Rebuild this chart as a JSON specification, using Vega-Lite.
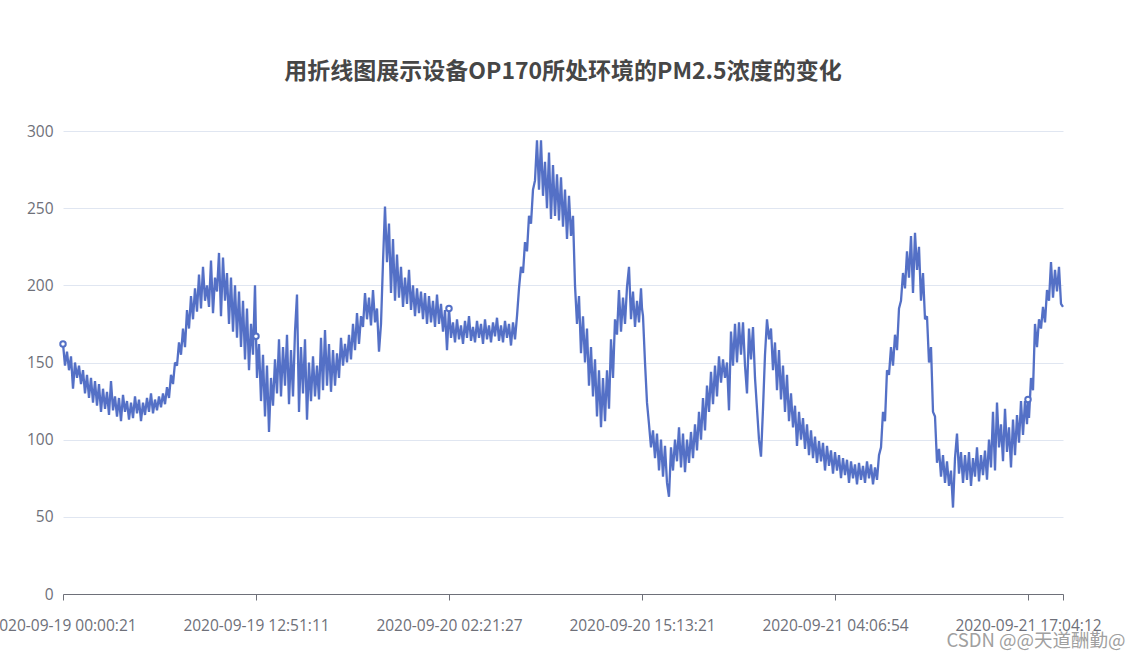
{
  "$schema": "https://vega.github.io/schema/vega-lite/v6.json",
  "width": 1000,
  "height": 463,
  "autosize": {"type": "none"},
  "padding": {"left": 63, "top": 131, "right": 76, "bottom": 66},
  "background": "white",
  "config": {"view": {"stroke": null}},
  "title": {
    "text": "用折线图展示设备OP170所处环境的PM2.5浓度的变化",
    "font": "Noto Sans CJK SC",
    "fontSize": 23,
    "fontWeight": "bold",
    "color": "#464646",
    "anchor": "middle",
    "frame": "group",
    "baseline": "bottom",
    "offset": 17
  },
  "data": {
    "values": [
      {"i":0,"v":162},{"i":2,"v":148},{"i":4,"v":157},{"i":6,"v":145},{"i":8,"v":154},{"i":10,"v":133},{"i":12,"v":150},{"i":14,"v":140},{"i":16,"v":148},{"i":18,"v":136},
      {"i":20,"v":145},{"i":22,"v":130},{"i":24,"v":142},{"i":26,"v":127},{"i":28,"v":140},{"i":30,"v":124},{"i":32,"v":138},{"i":34,"v":122},{"i":36,"v":136},{"i":38,"v":118},
      {"i":40,"v":133},{"i":42,"v":120},{"i":44,"v":131},{"i":46,"v":116},{"i":48,"v":138},{"i":50,"v":119},{"i":52,"v":128},{"i":54,"v":115},{"i":56,"v":127},{"i":58,"v":112},
      {"i":60,"v":129},{"i":62,"v":118},{"i":64,"v":125},{"i":66,"v":113},{"i":68,"v":124},{"i":70,"v":114},{"i":72,"v":128},{"i":74,"v":117},{"i":76,"v":126},{"i":78,"v":112},
      {"i":80,"v":124},{"i":82,"v":116},{"i":84,"v":127},{"i":86,"v":118},{"i":88,"v":130},{"i":90,"v":117},{"i":92,"v":126},{"i":94,"v":119},{"i":96,"v":128},{"i":98,"v":121},
      {"i":100,"v":130},{"i":102,"v":123},{"i":104,"v":134},{"i":106,"v":127},{"i":108,"v":142},{"i":110,"v":136},{"i":112,"v":150},{"i":114,"v":148},{"i":116,"v":163},{"i":118,"v":155},
      {"i":120,"v":172},{"i":122,"v":160},{"i":124,"v":184},{"i":126,"v":172},{"i":128,"v":193},{"i":130,"v":178},{"i":132,"v":198},{"i":134,"v":183},{"i":136,"v":207},{"i":138,"v":185},
      {"i":140,"v":212},{"i":142,"v":190},{"i":144,"v":200},{"i":146,"v":186},{"i":148,"v":216},{"i":150,"v":182},{"i":152,"v":205},{"i":154,"v":196},{"i":156,"v":221},{"i":158,"v":180},
      {"i":160,"v":218},{"i":162,"v":190},{"i":164,"v":208},{"i":166,"v":175},{"i":168,"v":205},{"i":170,"v":170},{"i":172,"v":200},{"i":174,"v":166},{"i":176,"v":196},{"i":178,"v":160},
      {"i":180,"v":190},{"i":182,"v":152},{"i":184,"v":185},{"i":186,"v":145},{"i":188,"v":175},{"i":190,"v":155},{"i":192,"v":200},{"i":193,"v":167},{"i":194,"v":140},{"i":196,"v":162},
      {"i":198,"v":125},{"i":200,"v":155},{"i":202,"v":115},{"i":204,"v":148},{"i":206,"v":105},{"i":208,"v":140},{"i":210,"v":122},{"i":212,"v":152},{"i":214,"v":130},{"i":216,"v":165},
      {"i":218,"v":128},{"i":220,"v":160},{"i":222,"v":135},{"i":224,"v":168},{"i":226,"v":123},{"i":228,"v":158},{"i":230,"v":128},{"i":232,"v":170},{"i":234,"v":194},{"i":236,"v":118},
      {"i":238,"v":160},{"i":240,"v":130},{"i":242,"v":165},{"i":244,"v":113},{"i":246,"v":150},{"i":248,"v":125},{"i":250,"v":154},{"i":252,"v":128},{"i":254,"v":148},{"i":256,"v":126},
      {"i":258,"v":166},{"i":260,"v":132},{"i":262,"v":171},{"i":264,"v":135},{"i":266,"v":162},{"i":268,"v":131},{"i":270,"v":158},{"i":272,"v":135},{"i":274,"v":156},{"i":276,"v":140},
      {"i":278,"v":166},{"i":280,"v":148},{"i":282,"v":162},{"i":284,"v":150},{"i":286,"v":168},{"i":288,"v":152},{"i":290,"v":175},{"i":292,"v":158},{"i":294,"v":182},{"i":296,"v":162},
      {"i":298,"v":180},{"i":300,"v":173},{"i":302,"v":195},{"i":304,"v":178},{"i":306,"v":192},{"i":308,"v":174},{"i":310,"v":197},{"i":312,"v":176},{"i":314,"v":185},{"i":316,"v":157},
      {"i":318,"v":175},{"i":320,"v":215},{"i":322,"v":251},{"i":324,"v":215},{"i":326,"v":240},{"i":328,"v":195},{"i":330,"v":230},{"i":332,"v":190},{"i":334,"v":220},{"i":336,"v":192},
      {"i":338,"v":212},{"i":340,"v":186},{"i":342,"v":205},{"i":344,"v":188},{"i":346,"v":210},{"i":348,"v":184},{"i":350,"v":200},{"i":352,"v":180},{"i":354,"v":198},{"i":356,"v":182},
      {"i":358,"v":196},{"i":360,"v":178},{"i":362,"v":195},{"i":364,"v":175},{"i":366,"v":193},{"i":368,"v":176},{"i":370,"v":190},{"i":372,"v":173},{"i":374,"v":194},{"i":376,"v":175},
      {"i":378,"v":188},{"i":380,"v":170},{"i":382,"v":184},{"i":384,"v":158},{"i":386,"v":185},{"i":388,"v":166},{"i":390,"v":176},{"i":392,"v":163},{"i":394,"v":178},{"i":396,"v":165},
      {"i":398,"v":174},{"i":400,"v":162},{"i":402,"v":177},{"i":404,"v":166},{"i":406,"v":180},{"i":408,"v":164},{"i":410,"v":173},{"i":412,"v":163},{"i":414,"v":177},{"i":416,"v":166},
      {"i":418,"v":175},{"i":420,"v":162},{"i":422,"v":178},{"i":424,"v":165},{"i":426,"v":174},{"i":428,"v":163},{"i":430,"v":176},{"i":432,"v":167},{"i":434,"v":179},{"i":436,"v":164},
      {"i":438,"v":174},{"i":440,"v":163},{"i":442,"v":177},{"i":444,"v":166},{"i":446,"v":175},{"i":448,"v":161},{"i":450,"v":176},{"i":452,"v":165},{"i":454,"v":180},{"i":456,"v":198},
      {"i":458,"v":212},{"i":460,"v":208},{"i":462,"v":228},{"i":464,"v":222},{"i":466,"v":245},{"i":468,"v":240},{"i":470,"v":262},{"i":472,"v":268},{"i":474,"v":294},{"i":476,"v":262},
      {"i":478,"v":294},{"i":480,"v":258},{"i":482,"v":280},{"i":484,"v":250},{"i":486,"v":286},{"i":488,"v":243},{"i":490,"v":278},{"i":492,"v":245},{"i":494,"v":272},{"i":496,"v":242},
      {"i":498,"v":270},{"i":500,"v":238},{"i":502,"v":262},{"i":504,"v":230},{"i":506,"v":258},{"i":508,"v":232},{"i":510,"v":245},{"i":512,"v":200},{"i":514,"v":175},{"i":516,"v":193},
      {"i":518,"v":156},{"i":520,"v":180},{"i":522,"v":150},{"i":524,"v":172},{"i":526,"v":135},{"i":528,"v":160},{"i":530,"v":128},{"i":532,"v":152},{"i":534,"v":115},{"i":536,"v":145},
      {"i":538,"v":108},{"i":540,"v":140},{"i":542,"v":112},{"i":544,"v":145},{"i":546,"v":120},{"i":548,"v":165},{"i":550,"v":140},{"i":552,"v":178},{"i":554,"v":168},{"i":556,"v":197},
      {"i":558,"v":170},{"i":560,"v":192},{"i":562,"v":175},{"i":564,"v":199},{"i":566,"v":212},{"i":568,"v":178},{"i":570,"v":196},{"i":572,"v":173},{"i":574,"v":190},{"i":576,"v":176},
      {"i":578,"v":198},{"i":579,"v":185},{"i":580,"v":180},{"i":582,"v":150},{"i":584,"v":124},{"i":586,"v":110},{"i":588,"v":95},{"i":590,"v":106},{"i":592,"v":88},{"i":594,"v":104},
      {"i":596,"v":80},{"i":598,"v":100},{"i":600,"v":76},{"i":602,"v":96},{"i":604,"v":72},{"i":606,"v":63},{"i":608,"v":95},{"i":610,"v":80},{"i":612,"v":100},{"i":614,"v":86},
      {"i":616,"v":108},{"i":618,"v":82},{"i":620,"v":104},{"i":622,"v":79},{"i":624,"v":100},{"i":626,"v":85},{"i":628,"v":105},{"i":630,"v":88},{"i":632,"v":110},{"i":634,"v":93},
      {"i":636,"v":118},{"i":638,"v":100},{"i":640,"v":127},{"i":642,"v":106},{"i":644,"v":135},{"i":646,"v":118},{"i":648,"v":144},{"i":650,"v":123},{"i":652,"v":148},{"i":654,"v":128},
      {"i":656,"v":154},{"i":658,"v":137},{"i":660,"v":152},{"i":662,"v":140},{"i":664,"v":150},{"i":666,"v":119},{"i":668,"v":170},{"i":670,"v":148},{"i":672,"v":175},{"i":674,"v":150},
      {"i":676,"v":176},{"i":678,"v":155},{"i":680,"v":176},{"i":682,"v":148},{"i":684,"v":130},{"i":686,"v":172},{"i":688,"v":152},{"i":690,"v":173},{"i":692,"v":140},{"i":694,"v":120},
      {"i":696,"v":100},{"i":698,"v":89},{"i":700,"v":120},{"i":702,"v":155},{"i":704,"v":178},{"i":706,"v":165},{"i":708,"v":172},{"i":710,"v":145},{"i":712,"v":163},{"i":714,"v":132},
      {"i":716,"v":158},{"i":718,"v":126},{"i":720,"v":148},{"i":722,"v":118},{"i":724,"v":142},{"i":726,"v":112},{"i":728,"v":130},{"i":730,"v":108},{"i":732,"v":122},{"i":734,"v":96},
      {"i":736,"v":118},{"i":738,"v":100},{"i":740,"v":114},{"i":742,"v":94},{"i":744,"v":110},{"i":746,"v":90},{"i":748,"v":106},{"i":750,"v":88},{"i":752,"v":102},{"i":754,"v":85},
      {"i":756,"v":99},{"i":758,"v":86},{"i":760,"v":98},{"i":762,"v":80},{"i":764,"v":96},{"i":766,"v":83},{"i":768,"v":93},{"i":770,"v":78},{"i":772,"v":92},{"i":774,"v":80},
      {"i":776,"v":90},{"i":778,"v":75},{"i":780,"v":88},{"i":782,"v":77},{"i":784,"v":87},{"i":786,"v":72},{"i":788,"v":86},{"i":790,"v":75},{"i":792,"v":84},{"i":794,"v":71},
      {"i":796,"v":85},{"i":798,"v":74},{"i":800,"v":83},{"i":802,"v":72},{"i":804,"v":86},{"i":806,"v":75},{"i":808,"v":84},{"i":810,"v":71},{"i":812,"v":82},{"i":814,"v":74},
      {"i":816,"v":90},{"i":818,"v":95},{"i":820,"v":118},{"i":822,"v":112},{"i":824,"v":145},{"i":826,"v":142},{"i":828,"v":160},{"i":830,"v":148},{"i":832,"v":168},{"i":834,"v":158},
      {"i":836,"v":185},{"i":838,"v":190},{"i":840,"v":208},{"i":842,"v":198},{"i":844,"v":222},{"i":846,"v":205},{"i":848,"v":232},{"i":850,"v":195},{"i":852,"v":234},{"i":854,"v":210},
      {"i":856,"v":225},{"i":858,"v":190},{"i":860,"v":208},{"i":862,"v":178},{"i":864,"v":180},{"i":866,"v":150},{"i":868,"v":160},{"i":870,"v":118},{"i":872,"v":115},{"i":874,"v":85},
      {"i":876,"v":94},{"i":878,"v":76},{"i":880,"v":90},{"i":882,"v":72},{"i":884,"v":86},{"i":886,"v":70},{"i":888,"v":80},{"i":890,"v":56},{"i":892,"v":88},{"i":894,"v":104},
      {"i":896,"v":78},{"i":898,"v":92},{"i":900,"v":72},{"i":902,"v":90},{"i":904,"v":74},{"i":906,"v":92},{"i":908,"v":70},{"i":910,"v":88},{"i":912,"v":76},{"i":914,"v":95},
      {"i":916,"v":73},{"i":918,"v":90},{"i":920,"v":77},{"i":922,"v":93},{"i":924,"v":74},{"i":926,"v":100},{"i":928,"v":82},{"i":930,"v":118},{"i":932,"v":80},{"i":934,"v":124},
      {"i":936,"v":95},{"i":938,"v":110},{"i":940,"v":86},{"i":942,"v":120},{"i":944,"v":92},{"i":946,"v":108},{"i":948,"v":82},{"i":950,"v":113},{"i":952,"v":90},{"i":954,"v":116},
      {"i":956,"v":98},{"i":958,"v":125},{"i":960,"v":103},{"i":962,"v":125},{"i":964,"v":110},{"i":965,"v":126},{"i":966,"v":114},{"i":968,"v":140},{"i":970,"v":132},{"i":972,"v":175},
      {"i":974,"v":160},{"i":976,"v":178},{"i":978,"v":172},{"i":980,"v":186},{"i":982,"v":176},{"i":984,"v":197},{"i":986,"v":190},{"i":988,"v":215},{"i":990,"v":192},{"i":992,"v":210},
      {"i":994,"v":196},{"i":996,"v":212},{"i":998,"v":188},{"i":1000,"v":186}
    ]
  },
  "encoding": {
    "x": {
      "field": "i",
      "type": "quantitative",
      "scale": {"domain": [0, 1000], "nice": false, "zero": false},
      "axis": {
        "values": [0, 193, 386, 579, 772, 965, 1000],
        "labelExpr": "datum.value == 0 ? '2020-09-19 00:00:21' : datum.value == 193 ? '2020-09-19 12:51:11' : datum.value == 386 ? '2020-09-20 02:21:27' : datum.value == 579 ? '2020-09-20 15:13:21' : datum.value == 772 ? '2020-09-21 04:06:54' : datum.value == 965 ? '2020-09-21 17:04:12' : ''",
        "grid": false,
        "domainColor": "#6e7079",
        "tickColor": "#6e7079",
        "tickSize": 6,
        "labelColor": "#6e7079",
        "labelFont": "Open Sans",
        "labelFontSize": 15.5,
        "labelPadding": 18,
        "labelOverlap": false,
        "labelFlush": false,
        "title": "CSDN @@天道酬勤@",
        "titleFont": "Noto Sans CJK SC",
        "titleFontSize": 18.5,
        "titleFontWeight": "normal",
        "titleColor": "#a0a0a0",
        "titleAlign": "right",
        "titleBaseline": "alphabetic",
        "titleX": 1062,
        "titleY": 52
      }
    },
    "y": {
      "field": "v",
      "type": "quantitative",
      "scale": {"domain": [0, 300], "nice": false},
      "axis": {
        "values": [0, 50, 100, 150, 200, 250, 300],
        "domain": false,
        "ticks": false,
        "gridColor": "#e0e6f1",
        "labelColor": "#6e7079",
        "labelFont": "Open Sans",
        "labelFontSize": 15.5,
        "labelPadding": 10,
        "title": null
      }
    }
  },
  "layer": [
    {"mark": {"type": "line", "color": "#5470c6", "strokeWidth": 2.3, "strokeJoin": "bevel"}},
    {
      "transform": [{"filter": {"field": "i", "oneOf": [0, 193, 386, 965]}}],
      "mark": {"type": "point", "shape": "circle", "size": 30, "filled": true, "fill": "white", "stroke": "#5470c6", "strokeWidth": 2, "opacity": 1}
    }
  ]
}
